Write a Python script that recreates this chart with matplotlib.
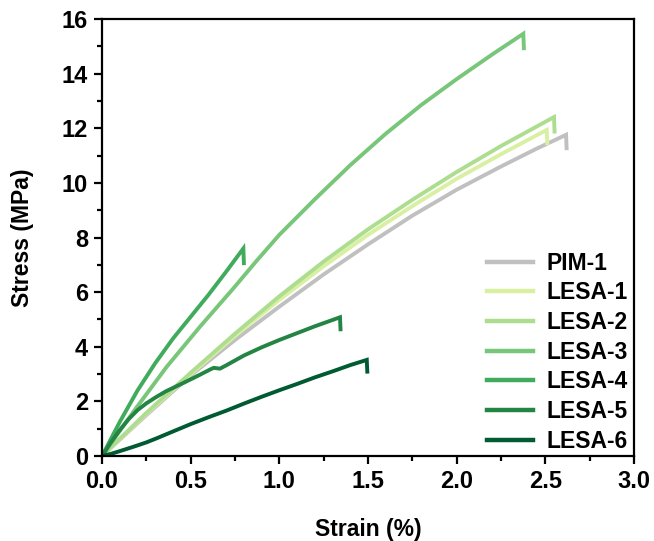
import matplotlib
matplotlib.use("Agg")
import matplotlib.pyplot as plt
from matplotlib.ticker import MultipleLocator, FormatStrFormatter

plt.rcParams["font.family"] = ["Liberation Sans", "DejaVu Sans"]
plt.rcParams["font.weight"] = "bold"

# stress-strain curves (strain %, stress MPa);
# the last point of each series is the fracture drop
pim1_x = [0, 0.25, 0.5, 0.75, 1.0, 1.25, 1.5, 1.75, 2.0, 2.25, 2.45, 2.617, 2.62]
pim1_y = [0, 1.5, 2.95, 4.25, 5.47, 6.65, 7.75, 8.8, 9.75, 10.6, 11.25, 11.76, 11.27]

lesa1_x = [0, 0.25, 0.5, 0.75, 1.0, 1.25, 1.5, 1.75, 2.0, 2.25, 2.508, 2.511]
lesa1_y = [0, 1.55, 3.0, 4.4, 5.72, 6.95, 8.1, 9.15, 10.15, 11.05, 11.94, 11.45]

lesa2_x = [0, 0.25, 0.5, 0.75, 1.0, 1.25, 1.5, 1.75, 2.0, 2.25, 2.549, 2.552]
lesa2_y = [0, 1.58, 3.05, 4.48, 5.85, 7.12, 8.3, 9.38, 10.4, 11.35, 12.41, 11.88]

lesa3_x = [0, 0.18, 0.365, 0.553, 0.741, 0.872, 1.0, 1.2, 1.4, 1.6, 1.8, 2.0, 2.2, 2.376, 2.379]
lesa3_y = [0, 1.65, 3.27, 4.74, 6.14, 7.15, 8.1, 9.4, 10.65, 11.8, 12.85, 13.8, 14.7, 15.46, 14.93]

lesa4_x = [0, 0.1, 0.2, 0.3, 0.4, 0.5, 0.6, 0.7, 0.797, 0.80]
lesa4_y = [0, 1.25, 2.4, 3.4, 4.3, 5.1, 5.9, 6.75, 7.6, 7.06]

lesa5_x = [0, 0.05, 0.1, 0.15, 0.2, 0.25, 0.3, 0.36, 0.46, 0.55, 0.61, 0.63, 0.665, 0.70,
           0.8, 0.9, 1.0, 1.1, 1.2, 1.342, 1.345]
lesa5_y = [0, 0.5, 0.95, 1.35, 1.68, 1.93, 2.14, 2.37, 2.68, 2.97, 3.17, 3.23, 3.2, 3.32,
           3.68, 3.98, 4.25, 4.5, 4.75, 5.08, 4.64]

lesa6_x = [0, 0.05, 0.1, 0.177, 0.25, 0.308, 0.4, 0.5, 0.6, 0.7, 0.8, 0.9, 1.0, 1.1, 1.2,
           1.3, 1.4, 1.493, 1.496]
lesa6_y = [0, 0.08, 0.18, 0.34, 0.5, 0.65, 0.9, 1.17, 1.42, 1.66, 1.92, 2.17, 2.41, 2.64,
           2.88, 3.1, 3.33, 3.52, 3.09]

labels = ["PIM-1", "LESA-1", "LESA-2", "LESA-3", "LESA-4", "LESA-5", "LESA-6"]
colors = ["#c0c0c0", "#d9f0a3", "#addd8e", "#78c679", "#41ab5d", "#238443", "#005a32"]
series = [(pim1_x, pim1_y), (lesa1_x, lesa1_y), (lesa2_x, lesa2_y), (lesa3_x, lesa3_y),
          (lesa4_x, lesa4_y), (lesa5_x, lesa5_y), (lesa6_x, lesa6_y)]

fig = plt.figure(figsize=(6.54, 5.41), dpi=100)
ax = fig.add_axes([0.156, 0.157, 0.8134, 0.8079])

for (x, y), c, lab in zip(series, colors, labels):
    ax.plot(x, y, color=c, lw=2.8, label=lab, solid_joinstyle="miter")

ax.set_xlim(0, 3.0)
ax.set_ylim(0, 16)
ax.xaxis.set_major_locator(MultipleLocator(0.5))
ax.xaxis.set_minor_locator(MultipleLocator(0.25))
ax.yaxis.set_major_locator(MultipleLocator(2))
ax.yaxis.set_minor_locator(MultipleLocator(1))
ax.xaxis.set_major_formatter(FormatStrFormatter("%.1f"))

for s in ax.spines.values():
    s.set_linewidth(1.6)
ax.tick_params(which="major", direction="out", length=6, width=1.6, labelsize=17, pad=4)
ax.tick_params(which="minor", direction="out", length=3.5, width=1.6)
for t in ax.get_xticklabels() + ax.get_yticklabels():
    t.set_fontweight("bold")

ax.set_xlabel("Strain (%)", fontsize=16.5, fontweight="bold", labelpad=18)
ax.set_ylabel("Stress (MPa)", fontsize=16.5, fontweight="bold", labelpad=20)

leg = ax.legend(loc="lower right", frameon=False, fontsize=16.5, handlelength=2.0,
                handletextpad=0.6, labelspacing=0.29, borderaxespad=0,
                bbox_to_anchor=(1.006, -0.013))
for line in leg.get_lines():
    line.set_linewidth(3.2)
for t in leg.get_texts():
    t.set_fontweight("bold")

fig.savefig("out.png", dpi=100)
